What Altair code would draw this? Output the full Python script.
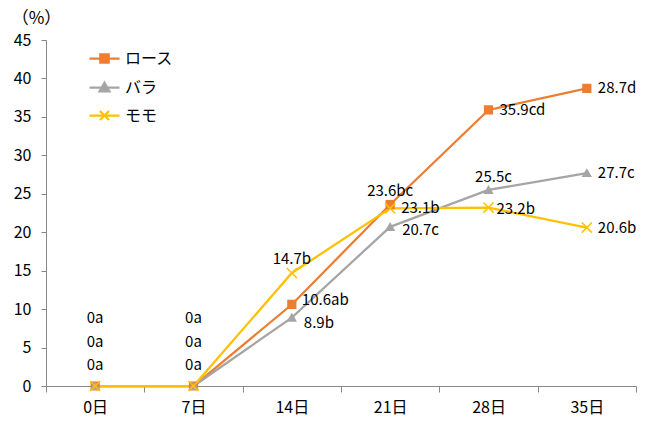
import altair as alt
import pandas as pd

# Days after start (x categories) and the three cuts
days = ["0日", "7日", "14日", "21日", "28日", "35日"]
series = ["ロース", "バラ", "モモ"]
colors = ["#ED7D31", "#A5A5A5", "#FFC000"]

# Measured values (%) per cut
rose = [0, 0, 10.6, 23.6, 35.9, 38.7]
bara = [0, 0, 8.9, 20.7, 25.5, 27.7]
momo = [0, 0, 14.7, 23.1, 23.2, 20.6]

# Value labels with significance letters, as printed on the chart
rose_labels = ["0a", "0a", "10.6ab", "23.6bc", "35.9cd", "28.7d"]
bara_labels = ["0a", "0a", "8.9b", "20.7c", "25.5c", "27.7c"]
momo_labels = ["0a", "0a", "14.7b", "23.1b", "23.2b", "20.6b"]

# Where each label sits relative to its point: (dx, dy, align)
placements = {
    "right": (11, 0, "left"),
    "right_up": (10, -4, "left"),
    "right_low": (12, 3, "left"),
    "right_lower": (12, 5, "left"),
    "right_near": (8, 1, "left"),
    "above": (0, -14, "center"),
    "above_r": (5, -13, "center"),
    "stack_top": (0, -68, "center"),
    "stack_mid": (0, -44, "center"),
    "stack_low": (0, -21, "center"),
}
label_place = {
    ("ロース", "0日"): "stack_top", ("バラ", "0日"): "stack_mid", ("モモ", "0日"): "stack_low",
    ("ロース", "7日"): "stack_top", ("バラ", "7日"): "stack_mid", ("モモ", "7日"): "stack_low",
    ("ロース", "14日"): "right_up", ("バラ", "14日"): "right_lower", ("モモ", "14日"): "above",
    ("ロース", "21日"): "above", ("バラ", "21日"): "right_low", ("モモ", "21日"): "right",
    ("ロース", "28日"): "right", ("バラ", "28日"): "above_r", ("モモ", "28日"): "right_near",
    ("ロース", "35日"): "right", ("バラ", "35日"): "right", ("モモ", "35日"): "right",
}

rows = []
for name, vals, labs in zip(series, [rose, bara, momo], [rose_labels, bara_labels, momo_labels]):
    for d, v, t in zip(days, vals, labs):
        rows.append({"series": name, "day": d, "value": v, "label": t,
                     "place": label_place[(name, d)]})
df = pd.DataFrame(rows)

JP = "Noto Sans CJK JP"
NUM = "Noto Sans CJK JP"
CROSS = "M-1.3,-1.3L1.3,1.3M-1.3,1.3L1.3,-1.3"

x_enc = alt.X(
    "day:N", sort=days,
    scale=alt.Scale(type="band", domain=days, paddingInner=0, paddingOuter=0),
    axis=alt.Axis(title=None, labelAngle=0, tickBand="extent", tickSize=6,
                  labelPadding=7, labelFont=NUM, labelFontSize=16, labelColor="#000",
                  domainColor="#888888", tickColor="#888888", grid=False),
)
y_enc = alt.Y(
    "value:Q",
    scale=alt.Scale(domain=[0, 45], nice=False),
    axis=alt.Axis(values=list(range(0, 50, 5)), grid=False, tickSize=5, labelPadding=10,
                  labelFont=NUM, labelFontSize=16, labelColor="#000",
                  domainColor="#888888", tickColor="#888888",
                  title="（%）", titleAngle=0, titleX=-10, titleY=-22,
                  titleAlign="center", titleBaseline="middle", titleFont=JP,
                  titleFontSize=17, titleFontWeight="normal", titleColor="#000"),
)

color_scale = alt.Scale(domain=series, range=colors)
shape_scale = alt.Scale(domain=series, range=["square", "triangle-up", CROSS])

base = alt.Chart(df).encode(x=x_enc, y=y_enc)

lines = base.mark_line(strokeWidth=2.25).encode(
    color=alt.Color("series:N", scale=color_scale, legend=None),
    detail="series:N",
)

points = base.mark_point(filled=True, size=60, strokeWidth=1.5, opacity=1).encode(
    color=alt.Color("series:N", scale=color_scale, legend=None),
    stroke=alt.Stroke("series:N", scale=color_scale, legend=None),
    shape=alt.Shape("series:N", scale=shape_scale, legend=None),
)

# Legend glyphs: a line segment through each marker
legend_shapes = [
    "M-1,0H1M-0.28,-0.28H0.28V0.28H-0.28Z",
    "M-1,0H1M0,-0.32L0.33,0.26H-0.33Z",
    "M-1,0H1M-0.3,-0.3L0.3,0.3M-0.3,0.3L0.3,-0.3",
]
leg = alt.Legend(title=None, orient="none", legendX=42, legendY=2, padding=0,
                 symbolSize=900, symbolStrokeWidth=2.25, rowPadding=3,
                 labelFont=JP, labelFontSize=16, labelColor="#000", labelOffset=4)
legend_layer = base.transform_filter("false").mark_point(filled=True, opacity=1).encode(
    color=alt.Color("series:N", scale=color_scale, legend=leg),
    stroke=alt.Stroke("series:N", scale=color_scale, legend=leg),
    shape=alt.Shape("series:N", scale=alt.Scale(domain=series, range=legend_shapes), legend=leg),
)

text_layers = []
for pname, (dx, dy, align) in placements.items():
    text_layers.append(
        base.transform_filter(alt.datum.place == pname).mark_text(
            dx=dx, dy=dy, align=align, baseline="middle",
            font=NUM, fontSize=15, color="#000",
        ).encode(text="label:N")
    )

chart = alt.layer(lines, points, legend_layer, *text_layers).resolve_scale(
    color="independent", stroke="independent", shape="independent"
).properties(
    width=590, height=346,
    padding={"left": 46, "top": 40, "right": 13, "bottom": 37},
    autosize=alt.AutoSizeParams(type="none"),
).configure_view(stroke=None)

chart.save("out.html", embed_options={"renderer": "svg", "actions": False})
